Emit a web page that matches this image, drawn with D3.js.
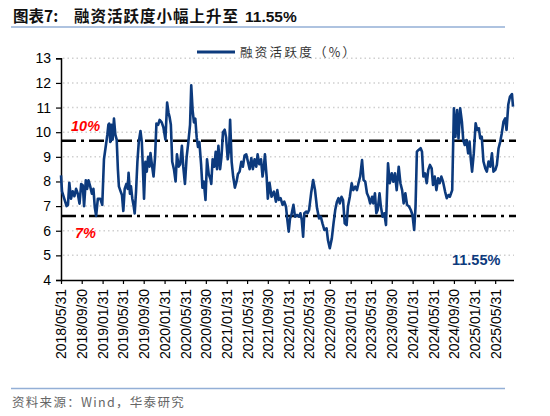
<!DOCTYPE html>
<html><head><meta charset="utf-8">
<script src="https://cdn.jsdelivr.net/npm/d3@7/dist/d3.min.js"></script>
<style>
html,body{margin:0;padding:0;background:#fff;}
svg{display:block;}
</style></head>
<body>
<svg id="chart" width="550" height="416"></svg>
<script>
const tickDates = ["2018-05-31","2018-09-30","2019-01-31","2019-05-31","2019-09-30","2020-01-31","2020-05-31","2020-09-30","2021-01-31","2021-05-31","2021-09-30","2022-01-31","2022-05-31","2022-09-30","2023-01-31","2023-05-31","2023-09-30","2024-01-31","2024-05-31","2024-09-30","2025-01-31","2025-05-31"];
const yTicks = [4,5,6,7,8,9,10,11,12,13];
const refLines = [9.65, 6.6];
const refLabels = ["10%","7%"];
const seriesName = "融资活跃度（%）";
const lastLabel = "11.55%";
const dates = ["2018-05-31","2018-06-06","2018-06-19","2018-07-03","2018-07-11","2018-07-19","2018-07-29","2018-08-08","2018-08-18","2018-08-28","2018-09-07","2018-09-17","2018-09-27","2018-10-06","2018-10-14","2018-10-24","2018-11-01","2018-11-09","2018-11-19","2018-11-29","2018-12-08","2018-12-16","2018-12-24","2019-01-03","2019-01-17","2019-01-29","2019-02-08","2019-02-18","2019-02-28","2019-03-06","2019-03-11","2019-03-17","2019-03-25","2019-03-31","2019-04-08","2019-04-16","2019-04-24","2019-05-01","2019-05-07","2019-05-17","2019-05-25","2019-06-02","2019-06-10","2019-06-20","2019-06-28","2019-07-03","2019-07-11","2019-07-17","2019-07-25","2019-08-02","2019-08-08","2019-08-16","2019-08-24","2019-09-01","2019-09-11","2019-09-19","2019-09-25","2019-10-02","2019-10-10","2019-10-18","2019-10-26","2019-11-03","2019-11-09","2019-11-17","2019-11-27","2019-12-06","2019-12-14","2019-12-24","2020-01-02","2020-01-14","2020-01-24","2020-02-05","2020-02-15","2020-02-23","2020-03-01","2020-03-08","2020-03-16","2020-03-26","2020-04-05","2020-04-13","2020-04-23","2020-05-02","2020-05-12","2020-05-20","2020-05-30","2020-06-09","2020-06-19","2020-06-29","2020-07-06","2020-07-14","2020-07-22","2020-07-30","2020-08-07","2020-08-15","2020-08-23","2020-09-02","2020-09-10","2020-09-18","2020-09-28","2020-10-07","2020-10-17","2020-10-27","2020-11-01","2020-11-09","2020-11-19","2020-11-27","2020-12-05","2020-12-13","2020-12-23","2020-12-31","2021-01-09","2021-01-19","2021-01-27","2021-02-06","2021-02-14","2021-02-20","2021-03-01","2021-03-10","2021-03-20","2021-03-30","2021-04-07","2021-04-17","2021-04-27","2021-05-06","2021-05-16","2021-05-26","2021-06-05","2021-06-15","2021-06-25","2021-07-04","2021-07-14","2021-07-24","2021-08-01","2021-08-11","2021-08-21","2021-08-30","2021-09-07","2021-09-13","2021-09-23","2021-09-30","2021-10-10","2021-10-22","2021-11-05","2021-11-17","2021-11-25","2021-12-04","2021-12-14","2021-12-26","2022-01-05","2022-01-15","2022-01-23","2022-01-31","2022-02-08","2022-02-16","2022-02-28","2022-03-09","2022-03-21","2022-04-02","2022-04-10","2022-04-18","2022-04-26","2022-05-03","2022-05-15","2022-05-22","2022-05-31","2022-06-12","2022-06-24","2022-07-05","2022-07-17","2022-07-29","2022-08-08","2022-08-18","2022-08-29","2022-09-11","2022-09-19","2022-09-30","2022-10-12","2022-10-22","2022-11-01","2022-11-11","2022-11-20","2022-11-28","2022-12-08","2022-12-17","2022-12-27","2023-01-07","2023-01-15","2023-01-26","2023-02-06","2023-02-15","2023-02-27","2023-03-09","2023-03-18","2023-03-28","2023-04-08","2023-04-17","2023-04-27","2023-05-07","2023-05-16","2023-05-26","2023-06-06","2023-06-13","2023-06-23","2023-07-01","2023-07-09","2023-07-20","2023-07-28","2023-08-07","2023-08-17","2023-08-27","2023-09-08","2023-09-18","2023-09-30","2023-10-09","2023-10-19","2023-10-29","2023-11-10","2023-11-20","2023-11-30","2023-12-09","2023-12-19","2023-12-29","2024-01-10","2024-01-20","2024-01-30","2024-02-09","2024-02-17","2024-02-25","2024-03-06","2024-03-18","2024-03-26","2024-04-03","2024-04-13","2024-04-23","2024-05-02","2024-05-12","2024-05-22","2024-05-30","2024-06-09","2024-06-19","2024-06-29","2024-07-08","2024-07-18","2024-07-28","2024-08-09","2024-08-19","2024-08-29","2024-09-06","2024-09-20","2024-09-30","2024-10-09","2024-10-19","2024-10-27","2024-11-06","2024-11-16","2024-11-24","2024-12-03","2024-12-13","2024-12-23","2024-12-31","2025-01-08","2025-01-15","2025-01-25","2025-02-05","2025-02-14","2025-02-24","2025-03-04","2025-03-13","2025-03-23","2025-04-03","2025-04-12","2025-04-22","2025-05-02","2025-05-12","2025-05-21","2025-06-01","2025-06-10","2025-06-20","2025-06-30","2025-07-09","2025-07-19","2025-07-29","2025-08-06","2025-08-16","2025-08-26","2025-09-07","2025-09-13"];
const values = [8.25,7.6,7.3,7.0,7.05,7.95,7.3,7.6,7.4,7.7,7.5,7.1,7.9,7.85,7.0,8.05,7.7,8.05,7.8,7.5,7.7,6.95,6.6,7.3,7.3,7.05,8.9,9.4,9.9,10.3,10.35,9.6,10.3,9.7,10.55,9.9,9.7,8.5,7.8,7.6,7.45,6.8,7.7,7.9,7.7,8.35,7.5,7.8,7.3,7.0,6.7,7.6,8.8,9.6,10.05,9.6,8.6,7.3,8.8,8.4,9.0,8.6,9.15,8.7,8.2,9.0,10.35,10.3,10.5,10.4,10.2,9.7,11.2,10.8,10.6,10.3,8.8,8.5,8.0,9.1,8.6,8.7,9.45,8.6,7.9,9.0,9.6,10.3,11.9,10.9,10.4,10.55,9.8,9.4,9.6,8.7,7.75,8.0,7.25,8.9,8.3,8.1,7.9,8.9,8.6,9.2,8.5,9.45,8.5,9.0,10.0,10.1,9.8,8.9,9.3,10.5,8.8,8.2,7.75,8.0,8.3,8.4,8.8,8.6,9.05,9.1,8.8,8.5,8.95,8.5,8.9,8.6,9.1,8.7,8.9,8.2,8.6,9.1,8.2,7.3,7.95,7.38,7.59,7.18,7.65,7.25,7.32,7.05,7.18,6.98,6.44,5.96,6.50,6.64,7.05,6.57,6.64,6.57,6.71,6.44,5.76,6.71,6.78,6.71,6.84,7.52,8.06,7.65,6.91,6.50,6.57,6.30,6.03,6.10,5.63,5.29,5.69,6.30,6.84,7.18,7.32,7.11,7.38,7.25,6.30,6.23,6.98,7.38,7.93,7.65,7.79,7.65,7.93,8.20,8.87,8.06,7.99,7.52,7.38,7.11,7.38,7.11,7.52,6.71,6.84,7.52,6.98,6.57,6.71,6.23,8.74,7.93,8.33,7.99,8.33,7.65,8.60,7.93,7.65,7.11,7.52,7.05,6.98,6.84,6.64,6.03,6.98,9.21,9.28,9.35,9.21,8.20,8.33,7.93,8.47,8.67,8.53,7.86,8.20,7.65,8.13,7.93,8.20,7.99,7.59,7.32,7.45,7.38,7.65,10.97,9.82,10.90,9.75,10.97,10.43,9.68,9.48,9.68,9.14,9.62,8.87,8.40,9.14,10.36,10.09,10.16,9.75,9.82,8.81,8.53,8.40,8.81,8.60,9.14,8.40,8.47,8.67,9.35,9.62,9.96,10.43,10.56,10.09,11.11,11.44,11.55,11.04];

const parse = d3.timeParse("%Y-%m-%d");
const fmt = d3.timeFormat("%Y/%m/%d");
const data = dates.map((d,i)=>({date:parse(d), value:values[i]}));

const svg = d3.select("#chart");
const L = 61, R = 514, T = 58.3, B = 280;
const x = d3.scaleTime().domain([parse("2018-05-31"), parse("2025-09-13")]).range([L, 513]);
const y = d3.scaleLinear().domain([4,13]).range([B, T]);
const latin = "'Liberation Sans', Arial, 'Noto Sans CJK SC', sans-serif";
const cjk = "'Noto Sans CJK SC', 'Liberation Sans', sans-serif";
const navy = "#0c3a7d";

// Title
const title = svg.append("text").attr("y", 22).attr("font-weight","bold").attr("font-size",15.5).attr("fill","#111").attr("font-family", cjk);
title.append("tspan").attr("x",13).text("图表7:");
title.append("tspan").attr("x",74).attr("letter-spacing","1px").text("融资活跃度小幅上升至");
title.append("tspan").attr("x",245).attr("font-family",latin).attr("font-size",15.5).text("11.55%");
svg.append("line").attr("x1",11).attr("x2",505).attr("y1",27).attr("y2",27).attr("stroke","#93afd6").attr("stroke-width",1.5);

// Gridlines
svg.append("g").selectAll("line").data(yTicks.filter(v=>v>4)).join("line")
  .attr("x1",L+2).attr("x2",R).attr("y1",d=>y(d)).attr("y2",d=>y(d))
  .attr("stroke","#d0d0d0").attr("stroke-width",1.5).attr("stroke-dasharray","1.5,3");

// Y axis
const yAxis = svg.append("g").attr("transform",`translate(${L},0)`)
  .call(d3.axisLeft(y).tickValues(yTicks).tickSize(5).tickPadding(5).tickFormat(d3.format("d")));
yAxis.select(".domain").attr("stroke","#000").attr("stroke-width",1.5);
yAxis.selectAll(".tick line").attr("stroke","#000").attr("stroke-width",1.2);
yAxis.selectAll("text").attr("font-family",latin).attr("font-size",14).attr("fill","#000");

// X axis
const xAxis = svg.append("g").attr("transform",`translate(0,${B})`)
  .call(d3.axisBottom(x).tickValues(tickDates.map(parse)).tickSize(4).tickSizeOuter(0).tickFormat(fmt));
xAxis.select(".domain").attr("stroke","#000").attr("stroke-width",1.5).attr("d",`M${L},0.5H${R}`);
xAxis.selectAll(".tick line").attr("stroke","#000").attr("stroke-width",1.2);
xAxis.selectAll("text").attr("font-family",latin).attr("font-size",14).attr("fill","#000")
  .attr("transform","rotate(-90)").attr("text-anchor","end").attr("x",-9).attr("y",0).attr("dy","0.35em");

// Reference lines
svg.append("g").selectAll("line").data(refLines).join("line")
  .attr("x1",L).attr("x2",516).attr("y1",d=>y(d)).attr("y2",d=>y(d))
  .attr("stroke","#000").attr("stroke-width",2.5).attr("stroke-dasharray","15,5,3,5");

// Series line
svg.append("path").datum(data)
  .attr("d", d3.line().x(d=>x(d.date)).y(d=>y(d.value)))
  .attr("fill","none").attr("stroke",navy).attr("stroke-width",2.6).attr("stroke-linejoin","round");

// Ref labels
svg.append("text").attr("x",71).attr("y",131).attr("font-family",latin).attr("font-size",14.5)
  .attr("font-weight","bold").attr("font-style","italic").attr("fill","#ff0000").text(refLabels[0]);
svg.append("text").attr("x",75).attr("y",238).attr("font-family",latin).attr("font-size",14.5)
  .attr("font-weight","bold").attr("font-style","italic").attr("fill","#ff0000").text(refLabels[1]);

// Last value label
svg.append("text").attr("x",452).attr("y",265).attr("font-family",latin).attr("font-size",14.5)
  .attr("font-weight","bold").attr("fill",navy).text(lastLabel);

// Legend
svg.append("line").attr("x1",197).attr("x2",235).attr("y1",52).attr("y2",52).attr("stroke",navy).attr("stroke-width",3);
svg.append("text").attr("x",240).attr("y",56.5).attr("font-family",cjk).attr("font-size",12.5)
  .attr("letter-spacing","2.3px").attr("fill","#333").text(seriesName);

// Footer
svg.append("line").attr("x1",11).attr("x2",505).attr("y1",388.5).attr("y2",388.5).attr("stroke","#93afd6").attr("stroke-width",1.5);
svg.append("text").attr("x",12).attr("y",407).attr("font-family",cjk).attr("font-size",12.5)
  .attr("letter-spacing","1.3px").attr("fill","#666").text("资料来源：Wind，华泰研究");
</script>
</body></html>
